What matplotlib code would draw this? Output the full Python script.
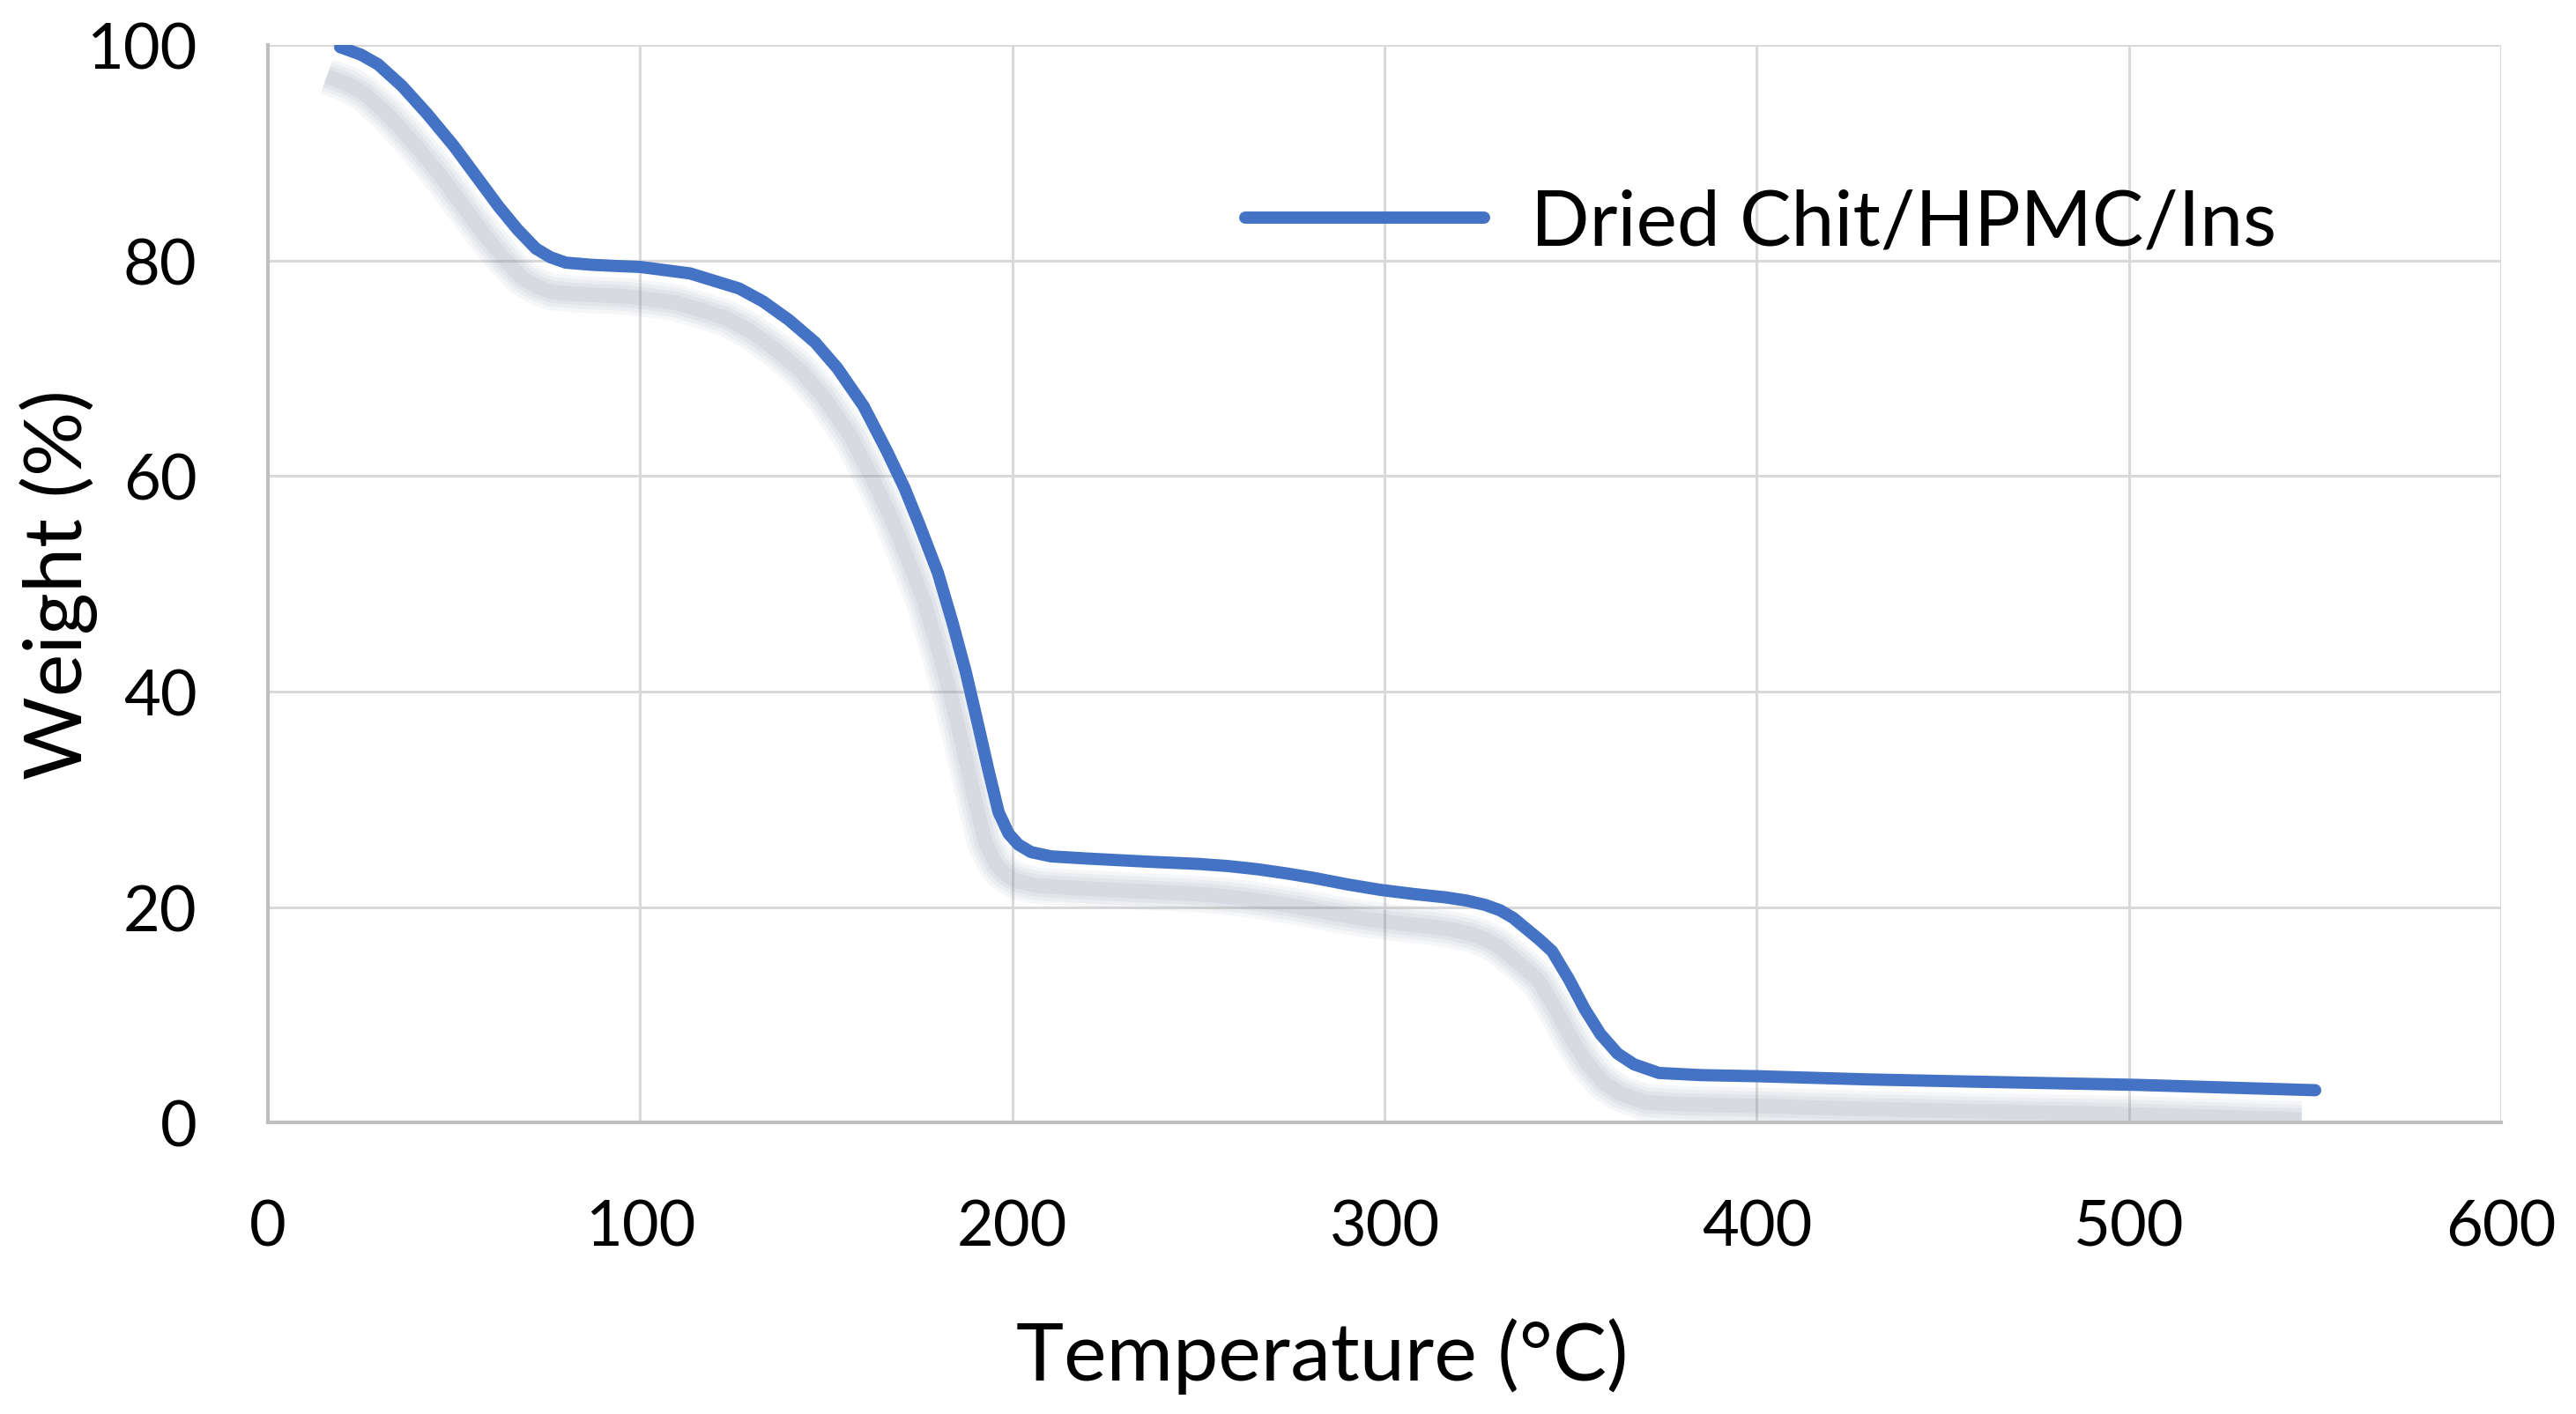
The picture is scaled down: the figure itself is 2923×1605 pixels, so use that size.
import matplotlib.pyplot as plt
import matplotlib.transforms as mtransforms

# TGA curve
temperature = [19.4, 25, 29.6, 36, 42.8, 50, 56, 62, 67, 72, 75.9, 80, 86.9, 93, 100,
               113.4, 126.6, 133, 139.9, 147, 153, 160, 166.3, 171, 175, 180, 184,
               187.5, 190.6, 193.5, 196.3, 199, 201.6, 205, 210.4, 220, 236.9, 250,
               258, 266, 274, 281, 290, 298.7, 308, 316.3, 322, 327, 331, 334.5,
               338, 341.5, 345, 349.5, 353.8, 358, 362.6, 367, 373.7, 385, 400,
               430, 457.5, 501.6, 550]
weight = [99.8, 99.1, 98.2, 96.2, 93.6, 90.6, 87.8, 85.0, 82.9, 81.1, 80.3, 79.8, 79.6,
          79.5, 79.4, 78.8, 77.4, 76.2, 74.5, 72.4, 70.0, 66.5, 62.3, 58.9, 55.5, 51.0,
          46.3, 41.8, 37.2, 32.8, 28.8, 26.8, 25.8, 25.1, 24.7, 24.5, 24.2, 24.0,
          23.8, 23.5, 23.1, 22.7, 22.1, 21.6, 21.2, 20.9, 20.6, 20.2, 19.7, 19.0,
          18.0, 17.0, 15.9, 13.3, 10.5, 8.2, 6.4, 5.4, 4.6, 4.4, 4.3,
          4.0, 3.8, 3.5, 3.0]
series_name = 'Dried Chit/HPMC/Ins'
x_ticks = [0, 100, 200, 300, 400, 500, 600]
y_ticks = [0, 20, 40, 60, 80, 100]

plt.rcParams['font.family'] = ['Lato', 'DejaVu Sans']

fig, ax = plt.subplots(figsize=(29.23, 16.06), dpi=100)
fig.subplots_adjust(left=0.104, right=0.971, top=0.9676, bottom=0.206)

# soft drop shadow, Excel style: stacked translucent strokes shifted down-left
for lw, a in [(30, 0.07), (24, 0.08), (18, 0.09), (12, 0.10)]:
    shift = mtransforms.ScaledTranslation(-11 / 72, -24 / 72, fig.dpi_scale_trans)
    ax.plot(temperature, weight, color='#7f8aa0', lw=lw, alpha=a,
            solid_capstyle='butt', solid_joinstyle='round',
            transform=ax.transData + shift, zorder=2)

ax.plot(temperature, weight, color='#4472c4', lw=10, solid_capstyle='round',
        solid_joinstyle='round', label=series_name, zorder=3)

ax.set_xlim(0, 600)
ax.set_ylim(0, 100)
ax.set_xticks(x_ticks)
ax.set_yticks(y_ticks)
ax.grid(True, color='#d9d9d9', lw=2.2, zorder=0)
ax.set_axisbelow(True)
for s in ['top', 'right']:
    ax.spines[s].set_visible(False)
for s in ['left', 'bottom']:
    ax.spines[s].set_color('#bfbfbf')
    ax.spines[s].set_linewidth(3)
ax.tick_params(length=0, labelsize=52, pad=58)
ax.tick_params(axis='x', pad=62)

ax.set_xlabel('Temperature (°C)', fontsize=66)
ax.xaxis.set_label_coords(0.472, -0.181)
ax.set_ylabel('Weight (%)', fontsize=66)
ax.yaxis.set_label_coords(-0.076, 0.5)

leg = ax.legend(loc='center left', bbox_to_anchor=(0.4066, 0.835), frameon=False,
                fontsize=63, handlelength=3.1, handletextpad=0.6)

fig.savefig('out.png', dpi=100)
